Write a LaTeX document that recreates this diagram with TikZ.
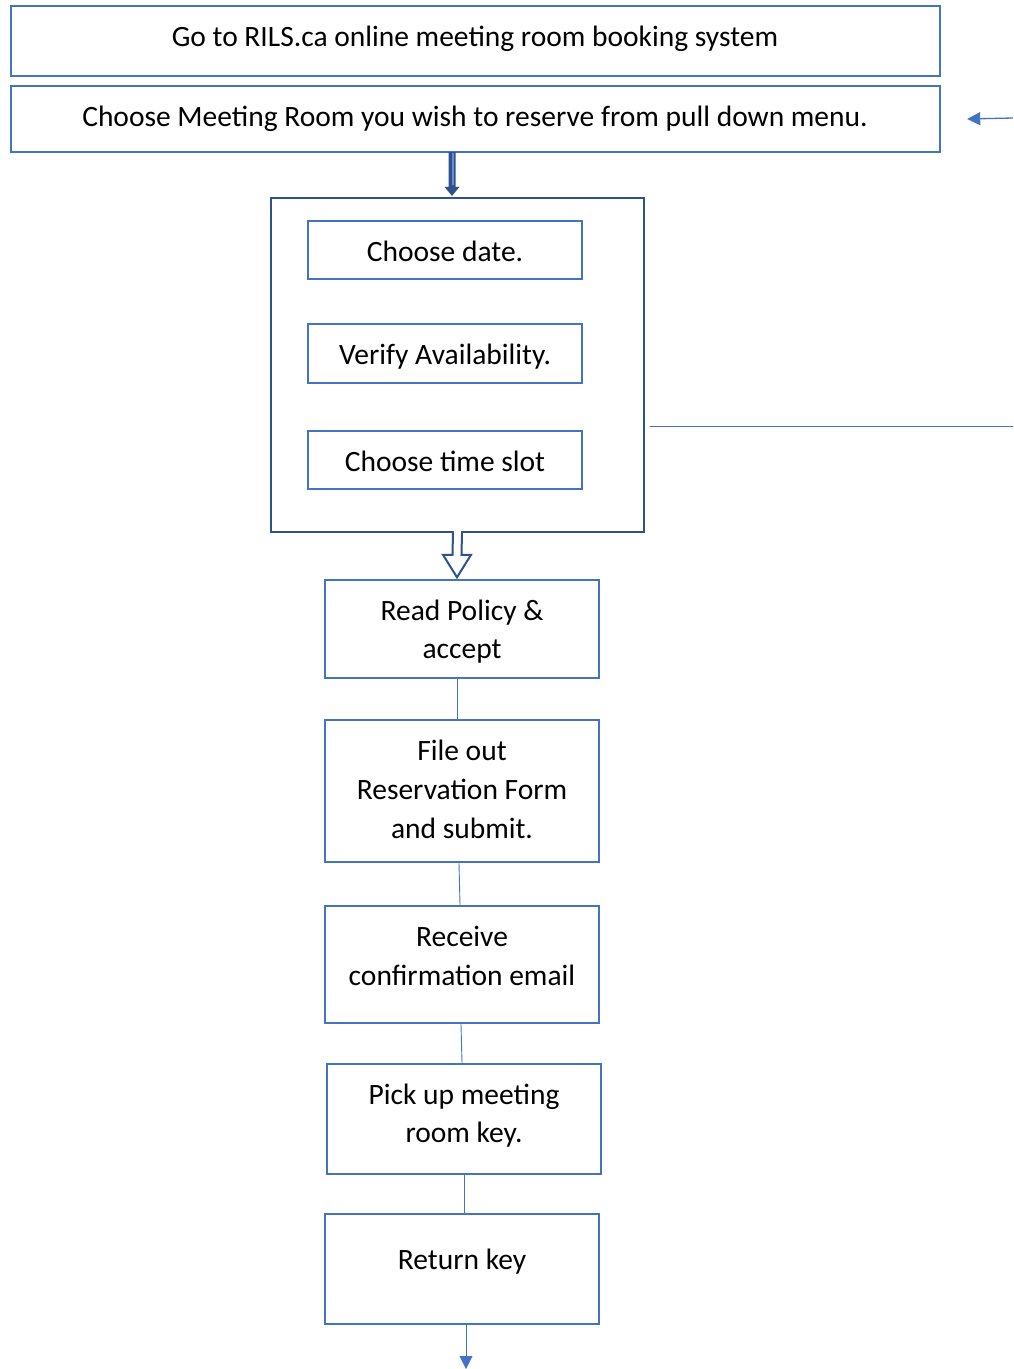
\documentclass[tikz,border=0pt]{standalone}
\usepackage{fontspec}
\setmainfont{Carlito}
\usetikzlibrary{arrows.meta,calc}
\definecolor{bl}{HTML}{4472C4}
\definecolor{dbl}{HTML}{2F528F}
\begin{document}
\begin{tikzpicture}[x=1pt,y=-1pt,
  box/.style={draw=bl,line width=2.4pt,rectangle,inner sep=0pt},
  txt/.style={inner sep=0pt,align=center,font=\fontsize{29.5}{38.7}\selectfont},
  frame/.style={draw=dbl,line width=2.2pt,rectangle,inner sep=0pt},
  link/.style={draw=bl,line width=0.9pt},
  tip/.style={-{Triangle[length=13pt,width=13pt]}}]
\useasboundingbox (0,0) rectangle (1013,1369);
\fill[white] (0,0) rectangle (1013,1369);
\node[box,minimum width=929pt,minimum height=70pt] (b1) at (475.5,41) {};
\node[txt] (b1t) at (475,38.5) {Go to RILS.ca online meeting room booking system};
\node[box,minimum width=929pt,minimum height=66pt] (b2) at (475.5,119) {};
\node[txt] (b2t) at (475,118.5) {Choose Meeting Room you wish to reserve from pull down menu.};
\node[frame,minimum width=373pt,minimum height=334pt] (cont) at (457.5,365) {};
\node[box,minimum width=274pt,minimum height=58pt] (c1) at (445,250) {};
\node[txt] (c1t) at (445,251) {Choose date.};
\node[box,minimum width=274pt,minimum height=59pt] (c2) at (445,353.5) {};
\node[txt] (c2t) at (445,356.5) {Verify Availability.};
\node[box,minimum width=274pt,minimum height=58pt] (c3) at (445,460) {};
\node[txt] (c3t) at (445,461) {Choose time slot};
\node[box,minimum width=274pt,minimum height=98pt] (r1) at (462,629) {};
\node[txt] (r1t) at (462,631.5) {Read Policy \&\\accept};
\node[box,minimum width=274pt,minimum height=142pt] (r2) at (462,791) {};
\node[txt] (r2t) at (462,789.5) {File out\\Reservation Form\\and submit.};
\node[box,minimum width=274pt,minimum height=117pt] (r3) at (462,964.5) {};
\node[txt] (r3t) at (462,956) {Receive\\confirmation email};
\node[box,minimum width=274pt,minimum height=110pt] (r4) at (464,1119) {};
\node[txt] (r4t) at (464,1115.5) {Pick up meeting\\room key.};
\node[box,minimum width=274pt,minimum height=110pt] (r5) at (462,1269) {};
\node[txt] (r5t) at (462,1262) {Return key};
% thick block arrow b2 -> cont
\coordinate (ta) at ([xshift=-23.5pt]b2.south);
\coordinate (tb) at ([xshift=-5.5pt]cont.north);
\fill[dbl] ($(ta)+(-3.5,-1)$) -- ($(tb)+(-3.5,-10)$) -- ($(tb)+(-7.5,-10)$) -- ($(tb)+(0,-1)$) -- ($(tb)+(7.5,-10)$) -- ($(tb)+(3.5,-10)$) -- ($(ta)+(3.5,-1)$) -- cycle;
\fill[bl!80] ($(ta)+(0,0)$) rectangle ($(tb)+(2,-12)$);
% hollow block arrow cont -> r1
\coordinate (ha) at ([xshift=0pt]cont.south);
\coordinate (hb) at ([xshift=-5pt]r1.north);
\filldraw[fill=white,draw=dbl,line width=2pt,line join=miter]
  ($(ha)+(-4.5,-1.2)$) -- ($(hb)+(-4.5,-24)$) -- ($(hb)+(-14,-24)$) -- ($(hb)+(0,-1.5)$) -- ($(hb)+(14,-24)$) -- ($(hb)+(4.5,-24)$) -- ($(ha)+(4.5,-1.2)$);
\fill[white] ($(ha)+(-3.5,-2.5)$) rectangle ($(ha)+(3.5,2.5)$);
% thin connectors
\draw[link] ([xshift=-5pt]r1.south) -- ([xshift=-5pt]r2.north);
\draw[link] ([xshift=-3pt]r2.south) -- ([xshift=-2pt]r3.north);
\draw[link] ([xshift=-1pt]r3.south) -- ([xshift=-2pt]r4.north);
\draw[link] (r4.south) -- ([xshift=2pt]r5.north);
\coordinate (bend) at ([xshift=4pt]r5.south |- 0,1369);
\draw[link,tip] ([xshift=4pt]r5.south) -- (bend);
% right-side arrow and line
\coordinate (rs) at (1013,118);
\coordinate (re) at ([xshift=26pt]b2.east);
\draw[link,line width=1.3pt,tip] (rs) -- (re);
\coordinate (ls) at ([xshift=5pt]cont.east |- 0,426);
\coordinate (le) at (1013,426);
\draw[link] (ls) -- (le);
\end{tikzpicture}
\end{document}
